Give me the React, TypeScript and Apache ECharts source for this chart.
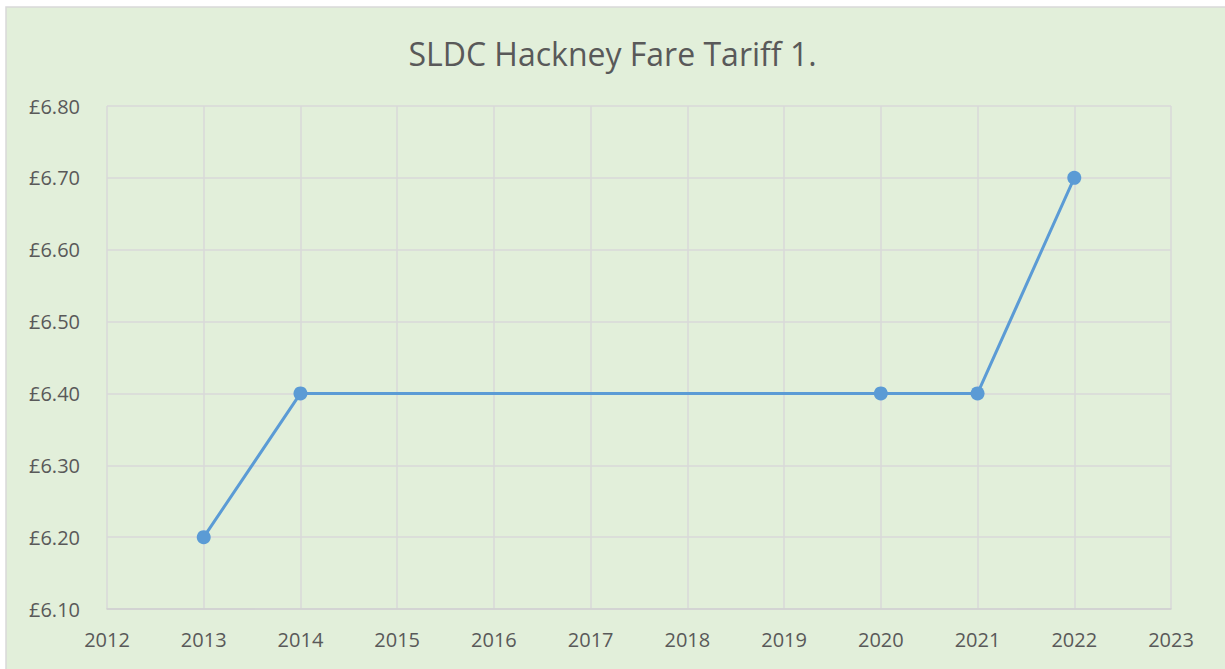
import React, { useEffect, useRef } from "react";
import * as echarts from "echarts";

const years = [2013, 2014, 2020, 2021, 2022];
const fares = [6.2, 6.4, 6.4, 6.4, 6.7];
const chartTitle = "SLDC Hackney Fare Tariff 1.";

export default function App() {
  const ref = useRef<HTMLDivElement>(null);
  useEffect(() => {
    if (!ref.current) return;
    const chart = echarts.init(ref.current, null, { renderer: "svg" });
    const font = "'Open Sans', 'Liberation Sans', sans-serif";
    chart.setOption({
      animation: false,
      backgroundColor: "#ffffff",
      graphic: [
        {
          type: "rect",
          z: -10,
          shape: { x: 6, y: 7, width: 1240, height: 680 },
          style: { fill: "#E2EFDA", stroke: "#D9D9D9", lineWidth: 1.5 },
        },
      ],
      title: {
        text: chartTitle,
        left: "center",
        top: 32,
        textStyle: { color: "#595959", fontSize: 32, fontWeight: "normal", fontFamily: font },
      },
      grid: { left: 107, right: 54, top: 106, bottom: 60, containLabel: false },
      xAxis: {
        type: "value",
        min: 2012,
        max: 2023,
        interval: 1,
        axisLine: { show: true, lineStyle: { color: "#D0D0D0", width: 1.5 } },
        axisTick: { show: false },
        splitLine: { show: true, lineStyle: { color: "#D9D9D9", width: 1.5 } },
        axisLabel: {
          color: "#595959",
          fontSize: 20,
          fontFamily: font,
          margin: 20,
          formatter: (v: number) => String(v),
        },
      },
      yAxis: {
        type: "value",
        min: 6.1,
        max: 6.8,
        interval: 0.1,
        axisLine: { show: false },
        axisTick: { show: false },
        splitLine: { show: true, lineStyle: { color: "#D9D9D9", width: 1.5 } },
        axisLabel: {
          color: "#595959",
          fontSize: 20,
          fontFamily: font,
          margin: 27,
          formatter: (v: number) => "£" + v.toFixed(2),
        },
      },
      series: [
        {
          type: "line",
          data: years.map((y, i) => [y, fares[i]]),
          symbol: "circle",
          symbolSize: 14,
          lineStyle: { color: "#5B9BD5", width: 3 },
          itemStyle: { color: "#5B9BD5" },
        },
      ],
    });
    return () => chart.dispose();
  }, []);
  return (
    <div
      ref={ref}
      style={{ position: "fixed", left: 0, top: 0, width: 1225, height: 669 }}
    />
  );
}
